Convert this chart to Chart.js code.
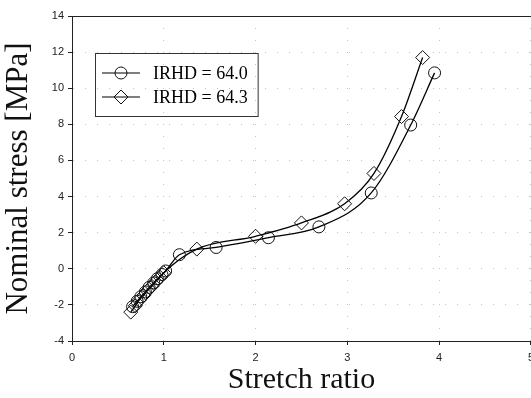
<!DOCTYPE html>
<html>
<head>
<meta charset="utf-8">
<script src="https://cdn.jsdelivr.net/npm/chart.js@4.4.1/dist/chart.umd.min.js"></script>
<style>
  html, body { margin: 0; padding: 0; background: #fff; overflow: hidden; }
  #wrap { width: 540px; height: 398px; }
</style>
</head>
<body>
<div id="wrap"><canvas id="myChart"></canvas></div>
<script>
// IRHD = 64.0 (circles)
const ratio640 = [0.66, 0.71, 0.75, 0.80, 0.84, 0.89, 0.93, 0.98, 1.02, 1.17, 1.57, 2.14, 2.69, 3.26, 3.69, 3.95]
const stress640 = [-2.10, -1.80, -1.55, -1.28, -1.03, -0.78, -0.55, -0.32, -0.12, 0.78, 1.18, 1.72, 2.32, 4.20, 7.96, 10.85]
// IRHD = 64.3 (diamonds)
const ratio643 = [0.64, 0.69, 0.73, 0.78, 0.82, 0.87, 0.91, 0.96, 1.00, 1.36, 2.00, 2.50, 2.97, 3.29, 3.59, 3.82]
const stress643 = [-2.40, -2.05, -1.75, -1.48, -1.22, -0.97, -0.72, -0.47, -0.22, 1.09, 1.80, 2.54, 3.60, 5.28, 8.43, 11.70]

const seriesLabels = ['IRHD = 64.0', 'IRHD = 64.3']
const xTicks = [0, 1, 2, 3, 4, 5]
const yTicks = [-4, -2, 0, 2, 4, 6, 8, 10, 12, 14]

function toPoints(xs, ys) {
    return xs.map((x, i) => ({ x: x, y: ys[i] }))
}

// cadre du haut + légende dessinée dans la zone du graphe
const frameAndLegend = {
    id: 'frameAndLegend',
    afterDatasetsDraw(chart) {
        const ctx = chart.ctx
        const a = chart.chartArea
        ctx.save()
        ctx.strokeStyle = '#222'
        ctx.lineWidth = 1
        ctx.beginPath()
        ctx.moveTo(a.left, a.top + 0.5)
        ctx.lineTo(a.right, a.top + 0.5)
        ctx.stroke()

        // légende
        ctx.font = '18px "Liberation Serif", "Times New Roman", serif'
        const w = Math.max(...seriesLabels.map(t => ctx.measureText(t).width))
        const bx = 95.5, by = 53.5
        const bw = 153 - 95 + w + 10, bh = 63
        ctx.strokeStyle = '#333'
        ctx.strokeRect(bx, by, bw, bh)
        const rows = [73, 97]
        chart.data.datasets.forEach((ds, i) => {
            const y = rows[i]
            ctx.strokeStyle = '#000'
            ctx.lineWidth = 1.2
            ctx.beginPath()
            ctx.moveTo(102, y)
            ctx.lineTo(140, y)
            ctx.stroke()
            ctx.fillStyle = 'rgba(255,255,255,0)'
            ctx.strokeStyle = '#111'
            ctx.lineWidth = 1
            Chart.helpers.drawPoint(ctx, {
                pointStyle: ds.pointStyle,
                radius: ds.pointRadius,
                borderWidth: 1
            }, 121, y)
            ctx.fillStyle = '#000'
            ctx.textBaseline = 'middle'
            ctx.fillText(ds.label, 153, y + 1)
        })
        ctx.restore()
    }
}

const ctx = document.getElementById('myChart')

const data = {
    datasets: [{
        label: seriesLabels[0],
        data: toPoints(ratio640, stress640),
        showLine: true,
        borderColor: '#000',
        borderWidth: 1.3,
        cubicInterpolationMode: 'monotone',
        pointStyle: 'circle',
        pointRadius: 6,
        pointBorderWidth: 1,
        pointBorderColor: '#111',
        pointBackgroundColor: 'rgba(255,255,255,0)'
    }, {
        label: seriesLabels[1],
        data: toPoints(ratio643, stress643),
        showLine: true,
        borderColor: '#000',
        borderWidth: 1.3,
        cubicInterpolationMode: 'monotone',
        pointStyle: 'rectRot',
        pointRadius: 7,
        pointBorderWidth: 1,
        pointBorderColor: '#111',
        pointBackgroundColor: 'rgba(255,255,255,0)'
    }]
}

const config = {
    type: 'scatter',
    data: data,
    options: {
        responsive: true,
        maintainAspectRatio: false,
        animation: false,
        layout: { padding: { top: 16, right: 0, left: 0, bottom: 0 } },
        scales: {
            x: {
                type: 'linear',
                min: 0,
                max: 5,
                afterBuildTicks: s => { s.ticks = xTicks.map(v => ({ value: v })) },
                afterFit: s => { s.height = 57 },
                grid: {
                    color: '#c4c4c4',
                    tickColor: '#222',
                    tickLength: 4,
                    tickBorderDash: [1, 0]
                },
                border: { color: '#222', width: 1, dash: [1, 11] },
                ticks: {
                    color: '#222',
                    padding: 6,
                    font: { family: '"Liberation Sans", Arial, sans-serif', size: 11 }
                },
                title: {
                    display: true,
                    text: 'Stretch ratio',
                    color: '#111',
                    padding: { top: 0, bottom: 0 },
                    font: { family: '"Liberation Serif", "Times New Roman", serif', size: 30 }
                }
            },
            y: {
                type: 'linear',
                min: -4,
                max: 14,
                afterBuildTicks: s => { s.ticks = yTicks.map(v => ({ value: v })) },
                afterFit: s => { s.width = 72 },
                grid: {
                    color: '#c4c4c4',
                    tickColor: '#222',
                    tickLength: 4,
                    tickBorderDash: [1, 0]
                },
                border: { color: '#222', width: 1, dash: [1, 11] },
                ticks: {
                    color: '#222',
                    padding: 4,
                    font: { family: '"Liberation Sans", Arial, sans-serif', size: 11 }
                },
                title: {
                    display: true,
                    text: 'Nominal stress [MPa]',
                    color: '#111',
                    padding: { top: 0, bottom: 0 },
                    font: { family: '"Liberation Serif", "Times New Roman", serif', size: 31 }
                }
            }
        },
        plugins: {
            legend: { display: false },
            tooltip: { enabled: false }
        }
    },
    plugins: [frameAndLegend]
}

new Chart(ctx, config)
</script>
</body>
</html>
